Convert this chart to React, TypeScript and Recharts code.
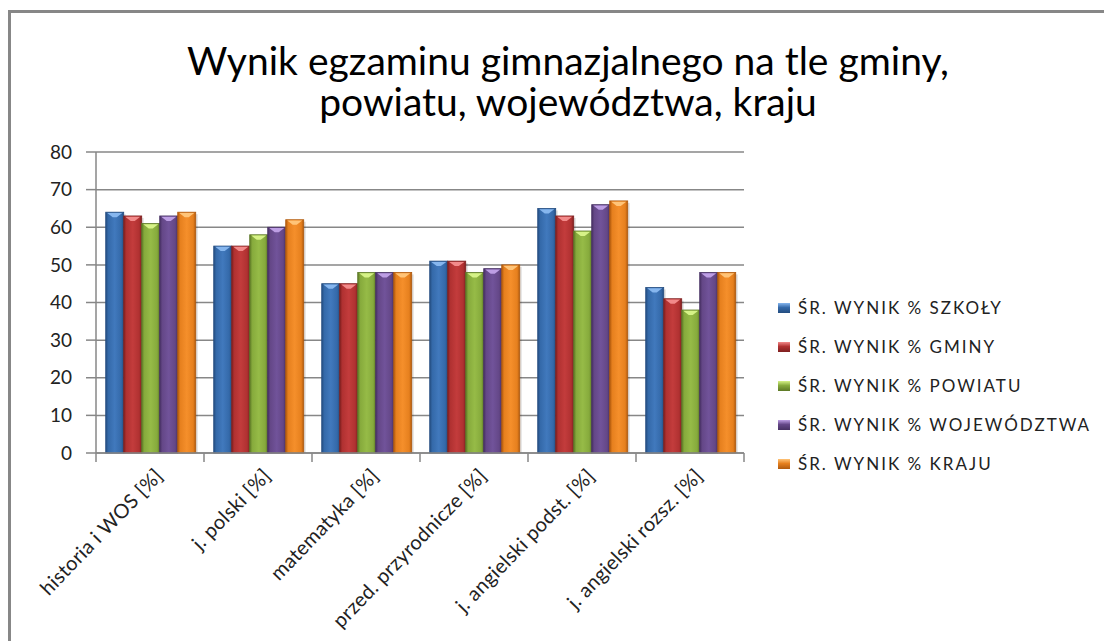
import { BarChart, Bar, XAxis, YAxis, CartesianGrid } from 'recharts'

const categories = [
  'historia i WOS [%]',
  'j. polski [%]',
  'matematyka [%]',
  'przed. przyrodnicze [%]',
  'j. angielski podst. [%]',
  'j. angielski rozsz. [%]',
]
const szkoly = [64, 55, 45, 51, 65, 44]
const gminy = [63, 55, 45, 51, 63, 41]
const powiatu = [61, 58, 48, 48, 59, 38]
const wojewodztwa = [63, 60, 48, 49, 66, 48]
const kraju = [64, 62, 48, 50, 67, 48]
const yTicks = [0, 10, 20, 30, 40, 50, 60, 70, 80]

const series = [
  { key: 'szkoly', name: 'ŚR. WYNIK % SZKOŁY', dark: '#244d80', base: '#3469a9', light: '#4179bd', cap: '#86b6ee' },
  { key: 'gminy', name: 'ŚR. WYNIK % GMINY', dark: '#7e2020', base: '#b03131', light: '#c33c3c', cap: '#f28a8a' },
  { key: 'powiatu', name: 'ŚR. WYNIK % POWIATU', dark: '#5d7826', base: '#86aa3c', light: '#96bb47', cap: '#d6f287' },
  { key: 'wojewodztwa', name: 'ŚR. WYNIK % WOJEWÓDZTWA', dark: '#473163', base: '#644787', light: '#71539a', cap: '#bd9ee4' },
  { key: 'kraju', name: 'ŚR. WYNIK % KRAJU', dark: '#b05a0e', base: '#e6801e', light: '#f58f2b', cap: '#ffc478' },
]

const data = categories.map((name, i) => ({
  name,
  szkoly: szkoly[i],
  gminy: gminy[i],
  powiatu: powiatu[i],
  wojewodztwa: wojewodztwa[i],
  kraju: kraju[i],
}))

const FONT = 'Lato, "Open Sans", sans-serif'
const AXIS = '#878787'

// eslint-disable-next-line @typescript-eslint/no-explicit-any
function BevelBar(props: any) {
  const { x, y, width, height, gradId, cap, dark } = props
  if (!height || height <= 0) return null
  return (
    <g>
      <rect x={x + 2} y={y + 2} width={width} height={height - 2} fill="rgba(0,0,0,0.13)" />
      <rect x={x} y={y} width={width} height={height} fill={`url(#${gradId})`} stroke={dark} strokeWidth={0.8} />
      <polygon
        points={`${x + 1.5},${y + 0.8} ${x + width - 1.5},${y + 0.8} ${x + width / 2 + 2},${y + 5} ${x + width / 2 - 2},${y + 5}`}
        fill={cap}
      />
    </g>
  )
}

// label plus the tick marks between categories (Excel puts them on the boundaries)
// eslint-disable-next-line @typescript-eslint/no-explicit-any
function XTick({ x, y, payload, index, visibleTicksCount, width }: any) {
  const half = width / visibleTicksCount / 2
  const ax = x + 14
  const ay = y + 24
  return (
    <g>
      <line x1={x - half} y1={y} x2={x - half} y2={y + 9} stroke={AXIS} strokeWidth={1.5} />
      {index === visibleTicksCount - 1 && (
        <line x1={x + half} y1={y} x2={x + half} y2={y + 9} stroke={AXIS} strokeWidth={1.5} />
      )}
      <text
        x={ax}
        y={ay}
        transform={`rotate(-46, ${ax}, ${ay})`}
        textAnchor="end"
        fontSize={20}
        letterSpacing={0.3}
        fontFamily={FONT}
        fill="#222"
      >
        {payload.value}
      </text>
    </g>
  )
}

function LegendBox() {
  return (
    <div
      style={{
        position: 'absolute',
        left: 778,
        top: 288,
        display: 'flex',
        flexDirection: 'column',
        fontFamily: FONT,
      }}
    >
      {series.map((s) => (
        <div key={s.key} style={{ display: 'flex', alignItems: 'center', height: 39 }}>
          <span
            style={{
              width: 12,
              height: 10,
              background: `linear-gradient(${s.cap}, ${s.base} 45%, ${s.dark})`,
              display: 'inline-block',
            }}
          />
          <span style={{ marginLeft: 8, fontSize: 17, letterSpacing: 2, color: '#222', whiteSpace: 'nowrap' }}>
            {s.name}
          </span>
        </div>
      ))}
    </div>
  )
}

export default function App() {
  return (
    <div style={{ position: 'relative', width: 1104, height: 641, overflow: 'hidden', background: '#fff' }}>
      <style>{'body{margin:0}'}</style>
      <div
        style={{
          position: 'absolute',
          left: 8,
          top: 10,
          width: 1110,
          height: 640,
          borderLeft: `3px solid ${AXIS}`,
          borderTop: `3px solid ${AXIS}`,
        }}
      />
      <div
        style={{
          position: 'absolute',
          left: 118,
          top: 40,
          width: 900,
          textAlign: 'center',
          fontFamily: FONT,
          fontSize: 39,
          lineHeight: '41px',
          color: '#000',
        }}
      >
        Wynik egzaminu gimnazjalnego na tle gminy,
        <br />
        powiatu, województwa, kraju
      </div>
      <div style={{ position: 'absolute', left: 0, top: 0 }}>
        <BarChart
          width={1104}
          height={641}
          data={data}
          margin={{ top: 152, right: 360, bottom: 38, left: 0 }}
          barCategoryGap="9%"
          barGap={0}
        >
          <defs>
            {series.map((s) => (
              <linearGradient key={s.key} id={`g-${s.key}`} x1="0" y1="0" x2="1" y2="0">
                <stop offset="0%" stopColor={s.dark} />
                <stop offset="14%" stopColor={s.base} />
                <stop offset="50%" stopColor={s.light} />
                <stop offset="86%" stopColor={s.base} />
                <stop offset="100%" stopColor={s.dark} />
              </linearGradient>
            ))}
          </defs>
          <CartesianGrid vertical={false} stroke={AXIS} strokeWidth={1.5} />
          <XAxis
            dataKey="name"
            interval={0}
            height={150}
            tickSize={0}
            tickMargin={0}
            tickLine={false}
            axisLine={{ stroke: AXIS, strokeWidth: 1.5 }}
            tick={<XTick />}
          />
          <YAxis
            domain={[0, 80]}
            ticks={yTicks}
            interval={0}
            width={96}
            tickSize={10}
            tickMargin={14}
            axisLine={{ stroke: AXIS, strokeWidth: 1.5 }}
            tickLine={{ stroke: AXIS, strokeWidth: 1.5 }}
            tick={{ fill: '#222', fontSize: 19, fontFamily: FONT }}
          />
          {series.map((s) => (
            <Bar
              key={s.key}
              dataKey={s.key}
              name={s.name}
              fill={s.base}
              isAnimationActive={false}
              shape={(p: object) => <BevelBar {...p} gradId={`g-${s.key}`} cap={s.cap} dark={s.dark} />}
            />
          ))}
        </BarChart>
      </div>
      <LegendBox />
    </div>
  )
}
